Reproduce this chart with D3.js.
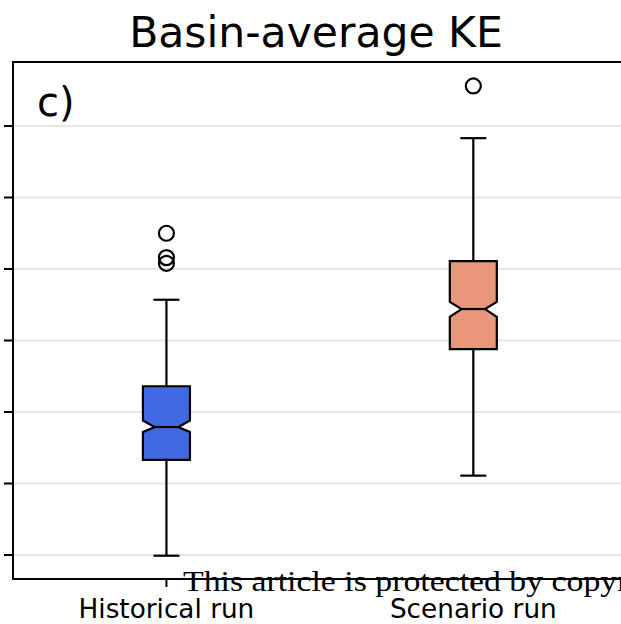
<!DOCTYPE html>
<html><head><meta charset="utf-8">
<script src="https://cdn.jsdelivr.net/npm/d3@7"></script>
<style>html,body{margin:0;padding:0;background:#fff;}svg{display:block;}</style>
</head><body>
<script>
// ---- data (arbitrary KE units; the axis has no labels) ----
const categories = ["Historical run", "Scenario run"];
const whiskerLow  = [-0.01, 1.11];
const q1          = [1.33, 2.88];
const median      = [1.79, 3.44];
const q3          = [2.36, 4.11];
const whiskerHigh = [3.57, 5.83];
const notchLow    = [1.72, 3.33];
const notchHigh   = [1.88, 3.54];
const outliers    = [[4.08, 4.16, 4.50], [6.56]];
const yTicks      = [0, 1, 2, 3, 4, 5, 6];
const boxColors   = ["#4169E1", "#E9967A"];

(function () {
const W = 621, H = 624;
const svg = d3.select("body").append("svg").attr("width", W).attr("height", H);

const plotLeft = 13, plotTop = 62, plotBottom = 579;
const x = d3.scaleLinear().domain([0.5, 2.5]).range([plotLeft, 626.75]);
const y = d3.scaleLinear().domain([0, 6]).range([555, 126]);

const boxHalf = 23.5, capHalf = 13, notchIn = 11.75, lw = 2.2;

// grid
svg.append("g").selectAll("line").data(yTicks).join("line")
  .attr("x1", plotLeft).attr("x2", W).attr("y1", d => y(d)).attr("y2", d => y(d))
  .attr("stroke", "#e6e6e6").attr("stroke-width", 2);

const idx = categories.map((c, i) => i);
const g = svg.append("g");
idx.forEach(i => {
  const cx = x(i + 1);
  g.append("line").attr("x1", cx).attr("x2", cx).attr("y1", y(q1[i])).attr("y2", y(whiskerLow[i]))
    .attr("stroke", "#000").attr("stroke-width", lw);
  g.append("line").attr("x1", cx).attr("x2", cx).attr("y1", y(q3[i])).attr("y2", y(whiskerHigh[i]))
    .attr("stroke", "#000").attr("stroke-width", lw);
  [whiskerLow[i], whiskerHigh[i]].forEach(v => {
    g.append("line").attr("x1", cx - capHalf).attr("x2", cx + capHalf).attr("y1", y(v)).attr("y2", y(v))
      .attr("stroke", "#000").attr("stroke-width", lw);
  });
  const L = cx - boxHalf, R = cx + boxHalf;
  const pts = [
    [L, y(q1[i])], [R, y(q1[i])], [R, y(notchLow[i])], [cx + notchIn, y(median[i])],
    [R, y(notchHigh[i])], [R, y(q3[i])], [L, y(q3[i])], [L, y(notchHigh[i])],
    [cx - notchIn, y(median[i])], [L, y(notchLow[i])]
  ];
  g.append("path").attr("d", "M" + pts.map(p => p.join(",")).join("L") + "Z")
    .attr("fill", boxColors[i]).attr("stroke", "#000").attr("stroke-width", lw).attr("stroke-linejoin", "miter");
  g.append("line").attr("x1", cx - notchIn).attr("x2", cx + notchIn)
    .attr("y1", y(median[i])).attr("y2", y(median[i])).attr("stroke", "#000").attr("stroke-width", lw);
  g.selectAll(null).data(outliers[i]).join("circle")
    .attr("cx", cx).attr("cy", d => y(d)).attr("r", 7.5)
    .attr("fill", "none").attr("stroke", "#000").attr("stroke-width", lw);
});

// spines
svg.append("line").attr("x1", plotLeft).attr("x2", plotLeft).attr("y1", plotTop).attr("y2", plotBottom)
  .attr("stroke", "#000").attr("stroke-width", 2);
svg.append("line").attr("x1", plotLeft - 1).attr("x2", W).attr("y1", plotTop).attr("y2", plotTop)
  .attr("stroke", "#000").attr("stroke-width", 2);
svg.append("line").attr("x1", plotLeft - 1).attr("x2", W).attr("y1", plotBottom).attr("y2", plotBottom)
  .attr("stroke", "#000").attr("stroke-width", 2);

// y ticks (no labels)
svg.append("g").selectAll("line").data(yTicks).join("line")
  .attr("x1", plotLeft - 9).attr("x2", plotLeft).attr("y1", d => y(d)).attr("y2", d => y(d))
  .attr("stroke", "#000").attr("stroke-width", 2);
// x ticks + labels
svg.append("g").selectAll("line").data(idx).join("line")
  .attr("x1", d => x(d + 1)).attr("x2", d => x(d + 1)).attr("y1", plotBottom).attr("y2", plotBottom + 8)
  .attr("stroke", "#000").attr("stroke-width", 2);
svg.append("g").selectAll("text").data(categories).join("text")
  .attr("x", (d, i) => x(i + 1)).attr("y", 618).attr("text-anchor", "middle")
  .attr("font-family", "DejaVu Sans").attr("font-size", 26.3).text(d => d);

// title & panel label
svg.append("text").attr("x", 316).attr("y", 47).attr("text-anchor", "middle")
  .attr("font-family", "DejaVu Sans").attr("font-size", 42.5).text("Basin-average KE");
svg.append("text").attr("x", 37).attr("y", 116)
  .attr("font-family", "DejaVu Sans").attr("font-size", 40).text("c)");

// watermark
svg.append("text").attr("x", 183).attr("y", 591)
  .attr("font-family", "Liberation Serif").attr("font-size", 30)
  .attr("textLength", 498).attr("lengthAdjust", "spacingAndGlyphs")
  .text("This article is protected by copyright");
})();
</script>
</body></html>
